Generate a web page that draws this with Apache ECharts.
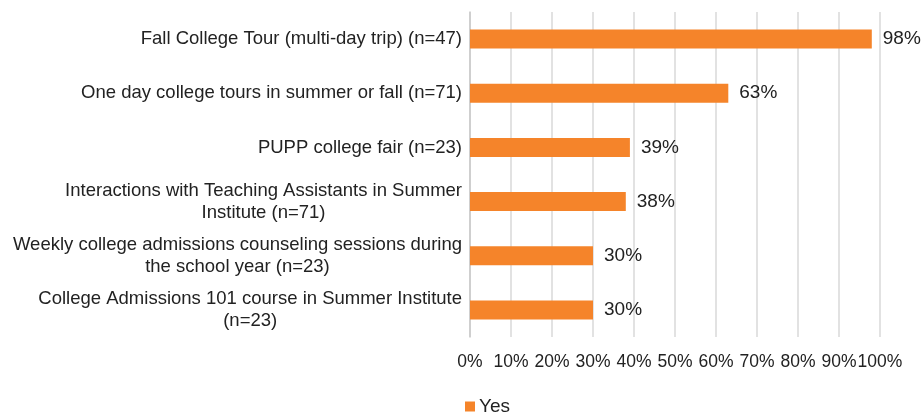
<!DOCTYPE html>
<html>
<head>
<meta charset="utf-8">
<script src="https://cdn.jsdelivr.net/npm/echarts@6/dist/echarts.min.js"></script>
<style>html,body{margin:0;padding:0;background:#fff}#c{width:921px;height:412px}</style>
</head>
<body>
<div id="c"></div>
<script>
const categories = [
  "Fall College Tour (multi-day trip) (n=47)",
  "One day college tours in summer or fall (n=71)",
  "PUPP college fair (n=23)",
  "Interactions with Teaching Assistants in Summer\nInstitute (n=71)",
  "Weekly college admissions counseling sessions during\nthe school year (n=23)",
  "College Admissions 101 course in Summer Institute\n(n=23)"
];
const yesValues = [98, 63, 39, 38, 30, 30];
const xTicks = { min: 0, max: 100, interval: 10 };
const seriesName = "Yes";

const FONT = '"Liberation Sans", Arial, Helvetica, sans-serif';
const chart = echarts.init(document.getElementById('c'), null, { renderer: 'canvas' });
chart.setOption({
  animation: false,
  textStyle: { fontFamily: FONT },
  grid: { left: 470, right: 41, top: 12, bottom: 75, containLabel: false },
  xAxis: {
    type: 'value', min: xTicks.min, max: xTicks.max, interval: xTicks.interval,
    axisLine: { show: false }, axisTick: { show: false },
    splitLine: { show: true, lineStyle: { color: '#d9d9d9', width: 1.5 } },
    axisLabel: { formatter: '{value}%', color: '#222', fontSize: 17.5, fontFamily: FONT, margin: 16, hideOverlap: false }
  },
  yAxis: {
    type: 'category', data: categories, inverse: true,
    axisLine: { show: true, lineStyle: { color: '#c8c8c8', width: 1.5 } },
    axisTick: { show: false },
    axisLabel: {
      color: '#222', fontSize: 18.5, fontFamily: FONT, margin: 8, lineHeight: 22,
      formatter: function (v) { return v.split('\n').map(function (l) { return '{c|' + l + '}'; }).join('\n'); },
      rich: { c: { align: 'center', fontSize: 18.5, fontFamily: FONT, color: '#222', lineHeight: 22 } }
    }
  },
  legend: {
    top: 392, left: 460, icon: 'rect', itemWidth: 10, itemHeight: 10, itemGap: 4,
    textStyle: { color: '#222', fontSize: 19, fontFamily: FONT, padding: [0, 0, 0, -1] },
    data: [seriesName]
  },
  series: [{
    name: seriesName, type: 'bar', data: yesValues, barWidth: 19,
    itemStyle: { color: '#F5842A' },
    label: { show: true, position: 'right', distance: 11, formatter: '{c}%', color: '#222', fontSize: 19, fontFamily: FONT }
  }]
});
</script>
</body>
</html>
